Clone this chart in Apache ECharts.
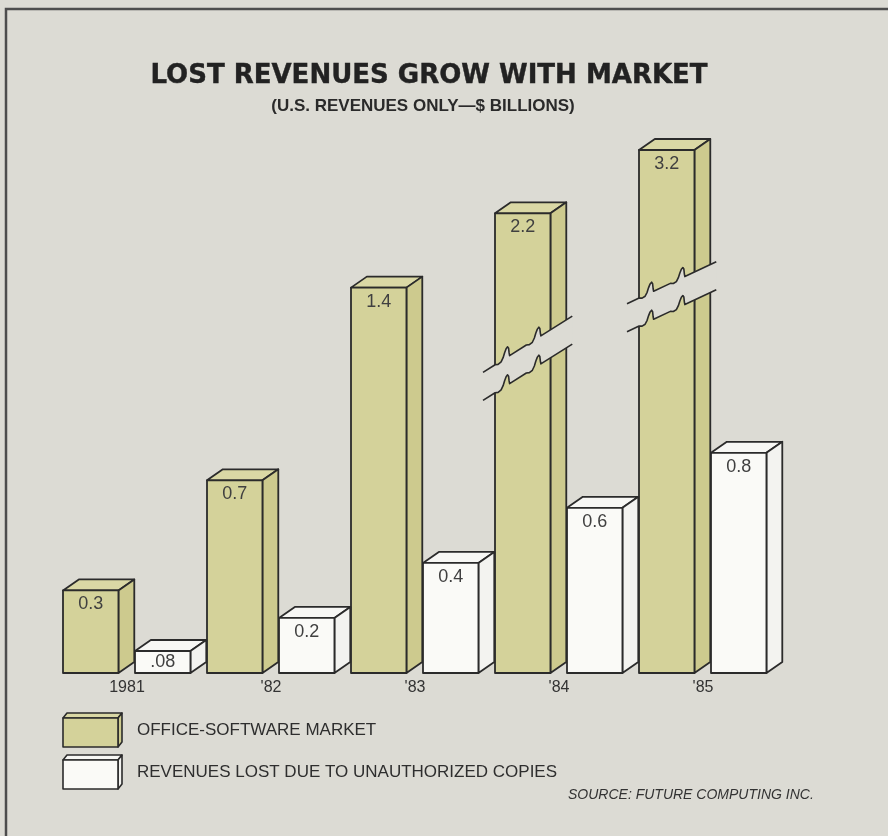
<!DOCTYPE html>
<html>
<head>
<meta charset="utf-8">
<title>Lost revenues grow with market</title>
<script src="https://cdn.jsdelivr.net/npm/echarts@6/dist/echarts.min.js"></script>
<style>
  html, body { margin: 0; padding: 0; background: #dcdbd4; }
  #chart { width: 888px; height: 836px; }
</style>
</head>
<body>
<div id="chart"></div>
<script>
// values (U.S. revenues, $ billions)
const years = ["1981", "'82", "'83", "'84", "'85"];
const marketValues = [0.3, 0.7, 1.4, 2.2, 3.2];
const lostValues = [0.08, 0.2, 0.4, 0.6, 0.8];

// the two tall bars are drawn broken, so the value axis is broken too
const axisBreaks = [
  { start: 1.5, end: 2.03, gap: 0 },
  { start: 2.3, end: 3.07, gap: 0 }
];

const BG = "#dcdbd4";
const INK = "#2b2b2b";
const GREEN = { front: "#d4d29a", side: "#cdca8e", top: "#dad8a5" };
const WHITE = { front: "#fafaf7", side: "#f3f3f0", top: "#f7f7f4" };
// where the zigzag break sits on a bar (share of bar height) and its slant
const breakStyle = { 3: { frac: 0.64, slope: -0.63 }, 4: { frac: 0.69, slope: -0.47 } };

function fmt(v) {
  return v < 0.1 ? String(v).replace(/^0/, "") : v.toFixed(1);
}

// a slanted line with two rounded steps in it
const notch = [[-12, 0], [-9, 1.5], [-6, 1], [-4, -2], [-2.5, -6], [-1, -9], [0.5, -10], [1.5, -8], [2, -3], [2.5, 0]];
function zigzag(x0, xs, xe, yc, slope) {
  const b = (x) => yc + slope * (x - x0);
  const pts = [[xs, b(xs)]];
  [0.27, 0.62].forEach((f) => {
    const xn = xs + f * (xe - xs);
    notch.forEach((p) => pts.push([xn + p[0], b(xn + p[0]) + p[1]]));
  });
  pts.push([xe, b(xe)]);
  return pts;
}

function makeRender(isMarket) {
  const col = isMarket ? GREEN : WHITE;
  return function (params, api) {
    const idx = api.value(0);
    const val = api.value(1);
    const base = api.coord([idx, 0]);
    const top = api.coord([idx, val]);
    const band = api.size([1, 0])[0];
    const w = band * 0.385;
    const dx = band * 0.11;
    const dy = 11;
    const x0 = isMarket ? base[0] - band / 2 : base[0];
    const x1 = x0 + w;
    const yB = base[1];
    const yT = top[1];
    const line = { stroke: INK, lineWidth: 1.8, lineJoin: "round" };
    const kids = [
      { type: "polygon", shape: { points: [[x0, yT], [x0 + dx, yT - dy], [x1 + dx, yT - dy], [x1, yT]] },
        style: Object.assign({ fill: col.top }, line) },
      { type: "polygon", shape: { points: [[x1, yT], [x1 + dx, yT - dy], [x1 + dx, yB - dy], [x1, yB]] },
        style: Object.assign({ fill: col.side }, line) },
      { type: "rect", shape: { x: x0, y: yT, width: w, height: yB - yT },
        style: Object.assign({ fill: col.front }, line) }
    ];
    const brk = isMarket ? breakStyle[idx] : null;
    if (brk) {
      const yc = yB - brk.frac * (yB - yT);
      const xs = x0 - 12, xe = x1 + dx + 6;
      const up = zigzag(x0, xs, xe, yc - 14, brk.slope);
      const lo = zigzag(x0, xs, xe, yc + 14, brk.slope);
      kids.push({ type: "polygon", shape: { points: up.concat(lo.slice().reverse()) },
        style: { fill: BG, stroke: null } });
      kids.push({ type: "polyline", shape: { points: up }, style: { stroke: INK, lineWidth: 1.6, fill: null, lineJoin: "round" } });
      kids.push({ type: "polyline", shape: { points: lo }, style: { stroke: INK, lineWidth: 1.6, fill: null, lineJoin: "round" } });
    }
    kids.push({
      type: "text",
      style: {
        text: fmt(val), x: x0 + w / 2, y: yT + Math.min(14, (yB - yT) / 2),
        align: "center", verticalAlign: "middle",
        font: "18px 'Liberation Sans', Arial, sans-serif", fill: "#404040"
      }
    });
    return { type: "group", children: kids };
  };
}

// small flat box used as legend key
function legendKey(x, y, col) {
  const w = 55, h = 29, dx = 4, dy = 5;
  const st = { stroke: INK, lineWidth: 1.6, lineJoin: "round" };
  return [
    { type: "polygon", shape: { points: [[x, y], [x + dx, y - dy], [x + w + dx, y - dy], [x + w, y]] },
      style: Object.assign({ fill: col.top }, st) },
    { type: "polygon", shape: { points: [[x + w, y], [x + w + dx, y - dy], [x + w + dx, y + h - dy], [x + w, y + h]] },
      style: Object.assign({ fill: col.side }, st) },
    { type: "rect", shape: { x: x, y: y, width: w, height: h },
      style: Object.assign({ fill: col.front }, st) }
  ];
}

const chart = echarts.init(document.getElementById("chart"));

const option = {
  backgroundColor: BG,
  animation: false,
  title: [
    {
      text: "LOST REVENUES GROW WITH MARKET",
      left: 424, top: 58, textAlign: "center",
      textStyle: {
        fontFamily: "'DejaVu Sans', sans-serif", fontWeight: "bold", fontSize: 26, color: "#222",
        textBorderColor: "#222", textBorderWidth: 0.4
      }
    },
    {
      text: "(U.S. REVENUES ONLY\u2014$ BILLIONS)",
      left: 418, top: 93, textAlign: "center",
      textStyle: { fontFamily: "'Liberation Sans', Arial, sans-serif", fontWeight: "bold", fontSize: 17, color: "#2a2a2a" }
    }
  ],
  grid: { left: 63, right: 105, top: 150, bottom: 163 },
  xAxis: {
    type: "category",
    data: years,
    axisLine: { show: false },
    axisTick: { show: false },
    axisLabel: {
      margin: 7, fontSize: 16, color: "#333",
      fontFamily: "'Liberation Sans', Arial, sans-serif",
      padding: [0, 16, 0, 0]
    }
  },
  yAxis: {
    type: "value",
    min: 0,
    max: 3.2,
    show: false,
    splitLine: { show: false },
    breaks: axisBreaks,
    breakArea: { show: false }
  },
  series: [
    {
      name: "OFFICE-SOFTWARE MARKET",
      type: "custom",
      renderItem: makeRender(true),
      data: marketValues.map((v, i) => [i, v])
    },
    {
      name: "REVENUES LOST DUE TO UNAUTHORIZED COPIES",
      type: "custom",
      renderItem: makeRender(false),
      data: lostValues.map((v, i) => [i, v])
    }
  ],
  graphic: [
    // frame line on top and left
    { type: "polyline", shape: { points: [[6, 836], [6, 9], [888, 9]] },
      style: { stroke: "#4d4d4d", lineWidth: 2.5, fill: null } }
  ].concat(legendKey(63, 718, GREEN), legendKey(63, 760, WHITE), [
    { type: "text", left: 137, top: 722,
      style: { text: "OFFICE-SOFTWARE MARKET", font: "17px 'Liberation Sans', Arial, sans-serif", fill: "#2e2e2e" } },
    { type: "text", left: 137, top: 764,
      style: { text: "REVENUES LOST DUE TO UNAUTHORIZED COPIES", font: "17px 'Liberation Sans', Arial, sans-serif", fill: "#2e2e2e" } },
    { type: "text", left: 568, top: 788,
      style: { text: "SOURCE: FUTURE COMPUTING INC.", font: "italic 14px 'Liberation Sans', Arial, sans-serif", fill: "#333" } }
  ])
};

chart.setOption(option);
</script>
</body>
</html>
